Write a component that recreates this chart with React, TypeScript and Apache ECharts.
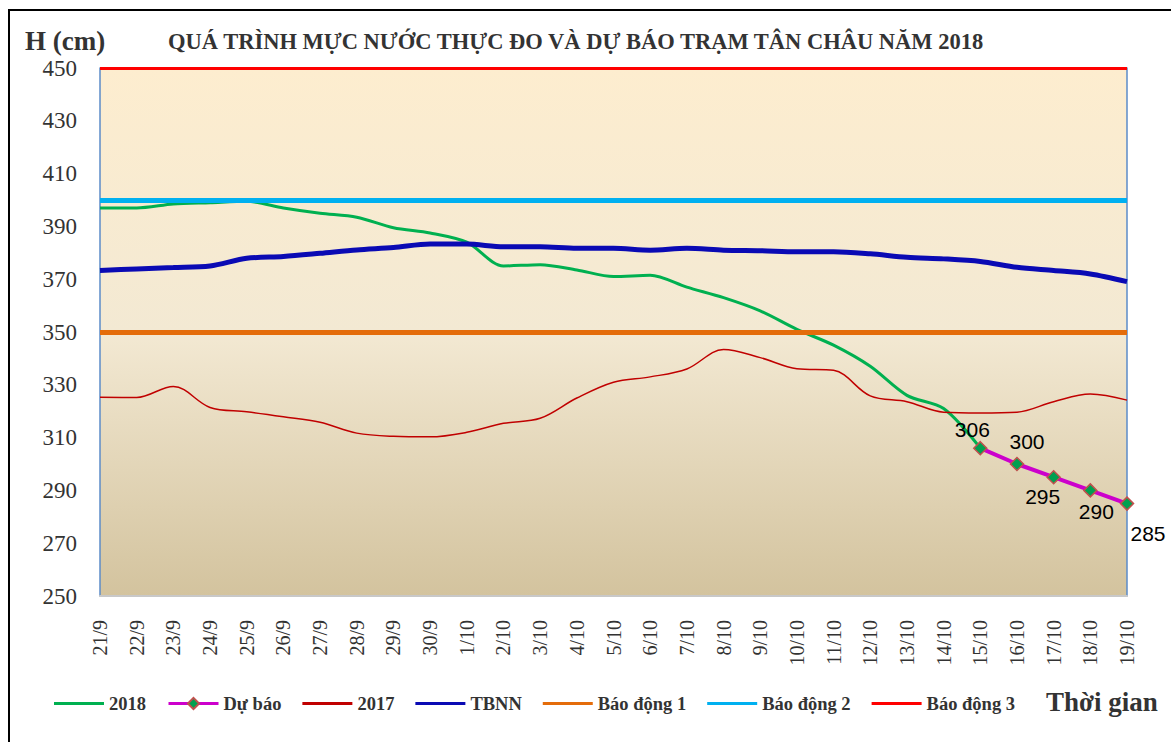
import React, { useEffect, useRef } from "react";
import * as echarts from "echarts";

const CATEGORIES = [
  "21/9", "22/9", "23/9", "24/9", "25/9", "26/9", "27/9", "28/9", "29/9", "30/9",
  "1/10", "2/10", "3/10", "4/10", "5/10", "6/10", "7/10", "8/10", "9/10", "10/10",
  "11/10", "12/10", "13/10", "14/10", "15/10", "16/10", "17/10", "18/10", "19/10",
];

const H_2018 = [
  397, 397, 398.5, 399, 399.5, 397, 395, 393.5, 389.5, 387.5,
  384, 375, 375.5, 373.5, 371, 371.5, 367, 363, 358, 351,
  345, 337, 326, 321, 306, null, null, null, null,
];

const FORECAST = [
  null, null, null, null, null, null, null, null, null, null,
  null, null, null, null, null, null, null, null, null, null,
  null, null, null, null, 306, 300, 295, 290, 285,
];

const H_2017 = [
  325.3, 325.2, 329.4, 321.4, 319.8, 317.9, 315.8, 311.7, 310.5, 310.3,
  312, 315.4, 317.3, 325, 331, 333, 336, 343.4, 340.3, 336.1,
  335.5, 325.8, 323.6, 319.6, 319.3, 319.6, 323.6, 326.5, 324.2,
];

const TBNN = [
  373.3, 373.9, 374.4, 375, 377.9, 378.6, 379.8, 381.1, 382, 383.3,
  383.3, 382.3, 382.3, 381.7, 381.7, 381, 381.7, 381, 380.8, 380.4,
  380.4, 379.6, 378.3, 377.7, 376.7, 374.5, 373.3, 372, 369.1,
];

const ALARM_1 = 350;
const ALARM_2 = 400;
const ALARM_3 = 450;

const Y_MIN = 250;
const Y_MAX = 450;
const Y_STEP = 20;

const SERIES_NAMES = ["2018", "Dự báo", "2017", "TBNN", "Báo động 1", "Báo động 2", "Báo động 3"];

// label placement for forecast points (style only)
const FORECAST_LABEL_STYLE: Record<number, any> = {
  24: { position: "top", offset: [-8, 4] },
  25: { position: "top", offset: [10, 0] },
  26: { position: "bottom", offset: [-11, -3] },
  27: { position: "bottom", offset: [6, -2] },
  28: { position: "bottom", offset: [21, 7] },
};

const LINE_ICON = "path://M0,0H50V3H0Z";

export default function App() {
  const ref = useRef<HTMLDivElement>(null);

  useEffect(() => {
    document.body.style.margin = "0";
    if (!ref.current) return;
    const chart = echarts.init(ref.current, undefined, { renderer: "svg" });

    const serif = "'Liberation Serif', 'Times New Roman', serif";
    const sans = "'Liberation Sans', Arial, sans-serif";

    const forecastData = FORECAST.map((v, i) =>
      v === null
        ? null
        : { value: v, label: FORECAST_LABEL_STYLE[i] || {} }
    );

    const alarmSeries = (name: string, level: number, color: string, width: number) => ({
      name,
      type: "line",
      data: [],
      color,
      lineStyle: { color, width },
      symbol: "none",
      markLine: {
        silent: true,
        symbol: "none",
        label: { show: false },
        lineStyle: { color, width, type: "solid" },
        data: [{ yAxis: level }],
      },
    });

    const legendData = SERIES_NAMES.map((name) =>
      name === "Dự báo" ? { name } : { name, icon: LINE_ICON }
    );

    const option: any = {
      animation: false,
      backgroundColor: "#ffffff",
      grid: {
        left: 100,
        right: 44,
        top: 68,
        bottom: 146,
        show: true,
        borderWidth: 0,
        backgroundColor: new echarts.graphic.LinearGradient(0, 0, 0, 1, [
          { offset: 0, color: "#FDEDCF" },
          { offset: 0.5, color: "#F3E9D3" },
          { offset: 1, color: "#D3C39E" },
        ]),
        outerBoundsMode: "none",
      },
      legend: {
        data: legendData,
        left: 54,
        top: 694,
        padding: 0,
        itemWidth: 50,
        itemHeight: 14,
        itemGap: 21,
        lineStyle: { width: 3 },
        textStyle: { fontFamily: serif, fontWeight: "bold", fontSize: 18.5, color: "#333333" },
      },
      xAxis: {
        type: "category",
        data: CATEGORIES,
        boundaryGap: false,
        axisLine: { show: true, lineStyle: { color: "#C8C8C8", width: 2 } },
        axisTick: { show: false },
        splitLine: { show: false },
        axisLabel: {
          rotate: 90,
          margin: 24,
          interval: 0,
          fontFamily: serif,
          fontSize: 20,
          color: "#333333",
        },
      },
      yAxis: [
        {
          type: "value",
          min: Y_MIN,
          max: Y_MAX,
          interval: Y_STEP,
          axisLine: { show: true, lineStyle: { color: "#5B8BC9", width: 1.5 } },
          axisTick: { show: false },
          splitLine: { show: false },
          axisLabel: {
            margin: 23,
            fontFamily: serif,
            fontSize: 23,
            color: "#333333",
          },
        },
        {
          type: "value",
          position: "right",
          min: Y_MIN,
          max: Y_MAX,
          interval: Y_STEP,
          axisLine: { show: true, lineStyle: { color: "#5B8BC9", width: 1.5 } },
          axisTick: { show: false },
          splitLine: { show: false },
          axisLabel: { show: false },
        },
      ],
      series: [
        {
          name: "2018",
          type: "line",
          data: H_2018,
          color: "#00B050",
          smooth: 0.3,
          symbol: "none",
          connectNulls: false,
          lineStyle: { color: "#00B050", width: 3 },
        },
        {
          name: "Dự báo",
          type: "line",
          data: forecastData,
          color: "#CC00CC",
          symbol: "diamond",
          symbolSize: 13,
          itemStyle: { color: "#00A050", borderColor: "#C0504D", borderWidth: 1.5 },
          lineStyle: { color: "#CC00CC", width: 4 },
          label: {
            show: true,
            fontFamily: sans,
            fontSize: 21,
            color: "#000000",
          },
          z: 5,
        },
        {
          name: "2017",
          type: "line",
          data: H_2017,
          color: "#C00000",
          smooth: 0.35,
          symbol: "none",
          lineStyle: { color: "#C00000", width: 1.5 },
        },
        {
          name: "TBNN",
          type: "line",
          data: TBNN,
          color: "#0A0AB4",
          smooth: 0.3,
          symbol: "none",
          lineStyle: { color: "#0A0AB4", width: 5 },
        },
        alarmSeries("Báo động 1", ALARM_1, "#E46C0A", 5),
        alarmSeries("Báo động 2", ALARM_2, "#00B0F0", 5),
        alarmSeries("Báo động 3", ALARM_3, "#FF0000", 3),
      ],
      graphic: [
        {
          type: "rect",
          shape: { x: 9, y: 10, width: 1200, height: 800 },
          style: { fill: "none", stroke: "#000000", lineWidth: 2 },
          silent: true,
        },
        {
          type: "text",
          left: 25,
          top: 27,
          style: {
            text: "H (cm)",
            font: `bold 27px ${serif}`,
            fill: "#333333",
          },
        },
        {
          type: "text",
          left: 168,
          top: 30,
          style: {
            text: "QUÁ TRÌNH MỰC NƯỚC THỰC ĐO VÀ DỰ BÁO TRẠM TÂN CHÂU NĂM 2018",
            font: `bold 22.5px ${serif}`,
            fill: "#333333",
          },
        },
        {
          type: "text",
          left: 1046,
          top: 688,
          style: {
            text: "Thời gian",
            font: `bold 27px ${serif}`,
            fill: "#333333",
          },
        },
      ],
    };

    chart.setOption(option);
    return () => chart.dispose();
  }, []);

  return <div ref={ref} style={{ width: 1171, height: 742 }} />;
}
